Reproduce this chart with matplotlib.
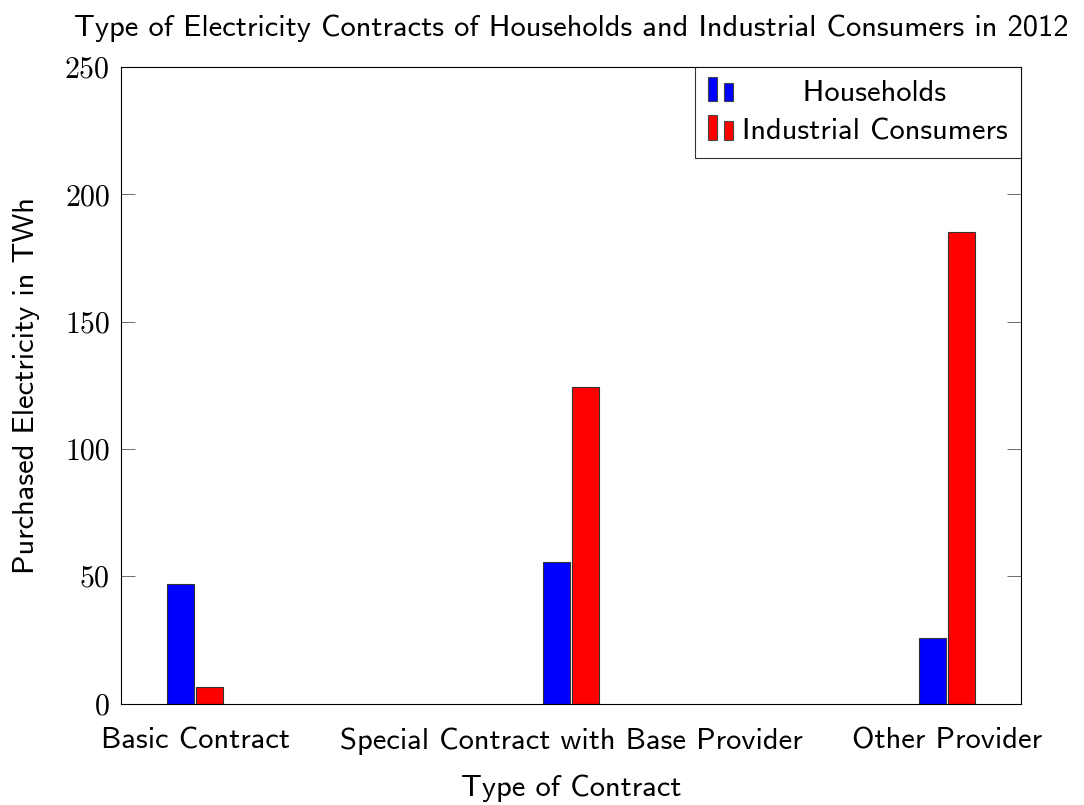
import numpy as np
import matplotlib
matplotlib.use('Agg')
import matplotlib.pyplot as plt
from matplotlib.legend_handler import HandlerBase
from matplotlib.patches import Rectangle, Patch

categories = ['Basic Contract', 'Special Contract with Base Provider', 'Other Provider']
households = [47.0, 55.7, 25.9]
industrial = [6.7, 124.3, 185.1]

plt.rcParams['font.family'] = ['cmss10', 'DejaVu Sans']
plt.rcParams['axes.formatter.use_mathtext'] = True


class TwoBarHandler(HandlerBase):
    # pgfplots style legend: two small bars
    def create_artists(self, legend, orig_handle, xdescent, ydescent, width, height, fontsize, trans):
        w = width * 0.3
        r1 = Rectangle((-xdescent, -ydescent), w, height * 1.15, facecolor=orig_handle.get_facecolor(),
                       edgecolor='#444444', linewidth=0.8, transform=trans)
        r2 = Rectangle((-xdescent + w * 1.7, -ydescent), w, height * 0.85, facecolor=orig_handle.get_facecolor(),
                       edgecolor='#444444', linewidth=0.8, transform=trans)
        return [r1, r2]


fig = plt.figure(figsize=(10.84, 8.05), dpi=100)
ax = fig.add_axes([0.1116, 0.126, 0.8303, 0.7908])

x = np.arange(len(categories))
w = 0.071
ax.bar(x - 0.039, households, w, color='#0000ff', edgecolor='#333333', linewidth=0.8)
ax.bar(x + 0.039, industrial, w, color='#ff0000', edgecolor='#333333', linewidth=0.8)

ax.set_xlim(-0.197, 2.197)
ax.set_ylim(0, 250)
ax.set_yticks([0, 50, 100, 150, 200, 250])
ax.set_yticklabels(['0', '50', '100', '150', '200', '250'], family='cmr10', fontsize=21.5)
ax.set_xticks(x)
ax.set_xticklabels(categories, fontsize=22)
ax.tick_params(axis='x', length=0, pad=17)
ax.tick_params(axis='y', direction='in', length=10, width=0.6, color='#555555', right=True, pad=8)
for s in ax.spines.values():
    s.set_linewidth(0.8)

ax.set_xlabel('Type of Contract', fontsize=22, labelpad=14)
ax.set_ylabel('Purchased Electricity in TWh', fontsize=22, labelpad=18)
ax.set_title('Type of Electricity Contracts of Households and Industrial Consumers in 2012', fontsize=22, pad=22)

handles = [Patch(facecolor='#0000ff'), Patch(facecolor='#ff0000')]
leg = ax.legend(handles, ['      Households', 'Industrial Consumers'], loc='upper right',
                handler_map={Patch: TwoBarHandler()}, fontsize=22, frameon=True, fancybox=False,
                edgecolor='black', borderaxespad=0, handlelength=1.0, handletextpad=0.12,
                borderpad=0.42, labelspacing=0.36)
leg.get_frame().set_linewidth(0.8)

plt.savefig('out.png', dpi=100)
